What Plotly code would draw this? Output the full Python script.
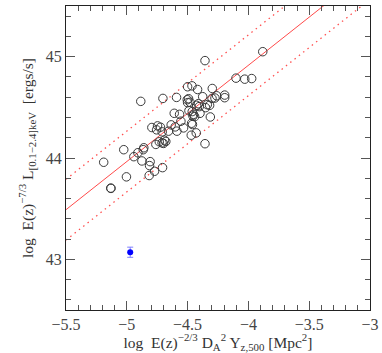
import plotly.graph_objects as go

# cluster sample: log E(z)^-2/3 D_A^2 Y  vs  log E(z)^-7/3 L_X
sample_x = [-5.190, -5.025, -5.003, -5.132, -5.130, -4.942, -4.909, -4.885, -4.876, -4.860,
            -4.865, -4.813, -4.808, -4.816, -4.794, -4.772, -4.761, -4.755, -4.747, -4.723,
            -4.733, -4.709, -4.703, -4.698, -4.706, -4.690, -4.679, -4.657, -4.635, -4.610,
            -4.602, -4.591, -4.588, -4.566, -4.555, -4.533, -4.500, -4.503, -4.492, -4.500,
            -4.489, -4.467, -4.464, -4.470, -4.462, -4.451, -4.456, -4.442, -4.426, -4.429,
            -4.418, -4.412, -4.404, -4.398, -4.376, -4.357, -4.357, -4.352, -4.338, -4.319,
            -4.313, -4.299, -4.297, -4.275, -4.261, -4.195, -4.195, -4.102, -4.030, -3.973,
            -3.882, -4.460, -4.480, -4.710]
sample_y = [43.958, 44.082, 43.814, 43.703, 43.700, 44.013, 44.052, 44.559, 43.971, 44.101,
            44.082, 43.925, 43.964, 43.827, 44.301, 43.869, 44.134, 44.278, 44.317, 44.304,
            44.160, 44.258, 44.588, 44.144, 43.905, 44.176, 44.163, 44.265, 44.327, 44.441,
            44.307, 44.598, 44.265, 44.431, 44.363, 44.297, 44.703, 44.575, 44.585, 44.546,
            44.467, 44.343, 44.712, 44.225, 44.458, 44.431, 44.415, 44.408, 44.520, 44.248,
            44.676, 44.536, 44.507, 44.441, 44.605, 44.141, 44.961, 44.497, 44.526, 44.520,
            44.405, 44.588, 44.686, 44.592, 44.614, 44.621, 44.595, 44.788, 44.778, 44.784,
            45.049, 44.330, 44.550, 44.150]

# highlighted object
special_x = [-4.972]
special_y = [43.07]
special_err = [0.05]

# best-fit relation and scatter
fit_slope = 0.95
fit_pivot_x = -5.5
fit_pivot_y = 43.49
fit_scatter = 0.30
fit_x = [-5.5, -3.0]

x_range = [-5.5, -3.0]
y_range = [42.5, 45.5]
x_ticks = [-5.5, -5, -4.5, -4, -3.5, -3]
x_tick_text = ["\u22125.5", "\u22125", "\u22124.5", "\u22124", "\u22123.5", "\u22123"]
y_ticks = [43, 44, 45]
y_tick_text = ["43", "44", "45"]

fit_y = [fit_pivot_y + fit_slope * (x - fit_pivot_x) for x in fit_x]
up_y = [v + fit_scatter for v in fit_y]
lo_y = [v - fit_scatter for v in fit_y]

fig = go.Figure()
fig.add_trace(go.Scatter(x=fit_x, y=up_y, mode="lines",
                         line=dict(color="#ff5050", width=1.3, dash="1.5px,4px"), hoverinfo="skip"))
fig.add_trace(go.Scatter(x=fit_x, y=lo_y, mode="lines",
                         line=dict(color="#ff5050", width=1.3, dash="1.5px,4px"), hoverinfo="skip"))
fig.add_trace(go.Scatter(x=fit_x, y=fit_y, mode="lines",
                         line=dict(color="#ff4a4a", width=1), hoverinfo="skip"))
fig.add_trace(go.Scatter(x=sample_x, y=sample_y, mode="markers",
                         marker=dict(symbol="circle-open", size=8.5,
                                     line=dict(color="#3a3a3a", width=1), color="#3a3a3a")))
fig.add_trace(go.Scatter(x=special_x, y=special_y, mode="markers",
                         marker=dict(symbol="circle", size=6, color="#0000ff"),
                         error_y=dict(type="data", array=special_err, color="#7f7fff",
                                      thickness=1, width=3)))

font_family = "Liberation Serif, DejaVu Serif, serif"
axis_common = dict(showline=True, linecolor="#222222", linewidth=1, mirror="allticks",
                   ticks="inside", ticklen=9, tickcolor="#555555", tickwidth=1,
                   showgrid=False, zeroline=False,
                   tickfont=dict(family=font_family, size=16, color="#444444"))

fig.update_xaxes(range=x_range, tickvals=x_ticks, ticktext=x_tick_text,
                 minor=dict(dtick=0.1, ticks="inside", ticklen=5, tickcolor="#555555", showgrid=False),
                 title=dict(text="log  E(z)<sup>\u22122/3</sup> D<sub>A</sub><sup>2</sup> Y<sub>z,500</sub> [Mpc<sup>2</sup>]",
                            font=dict(family=font_family, size=15.5, color="#333333"), standoff=4),
                 **axis_common)
fig.update_yaxes(range=y_range, tickvals=y_ticks, ticktext=y_tick_text,
                 minor=dict(dtick=0.2, ticks="inside", ticklen=5, tickcolor="#555555", showgrid=False),
                 title=dict(text="log  E(z)<sup>\u22127/3</sup> L<sub>[0.1\u22122.4]keV</sub>  [ergs/s]",
                            font=dict(family=font_family, size=15.5, color="#333333"), standoff=8),
                 **axis_common)

fig.update_layout(width=382, height=353, showlegend=False,
                  margin=dict(l=66, r=12, t=6, b=43, autoexpand=False),
                  plot_bgcolor="white", paper_bgcolor="white")

fig.write_html("out.html", config={"displayModeBar": False},
               post_script="document.body.style.margin='0';document.body.style.overflow='hidden';")
